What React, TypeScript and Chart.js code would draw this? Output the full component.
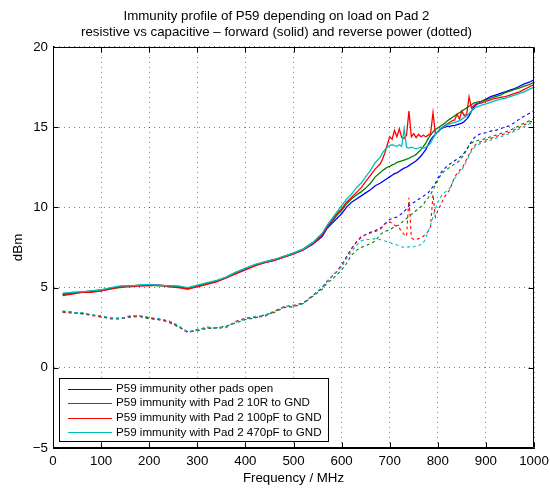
import { useEffect, useRef } from "react";
import { Chart, registerables } from "chart.js";
Chart.register(...registerables);

const titleLines = [
  "Immunity profile of P59 depending on load on Pad 2",
  "resistive vs capacitive \u2013 forward (solid) and reverse power (dotted)",
];
const xTitle = "Frequency / MHz";
const yTitle = "dBm";
const seriesLabels = [
  "P59 immunity other pads open",
  "P59 immunity with Pad 2 10R to GND",
  "P59 immunity with Pad 2 100pF to GND",
  "P59 immunity with Pad 2 470pF to GND",
];
const seriesColors = ["rgb(0,0,255)", "rgb(0,128,0)", "rgb(255,0,0)", "rgb(0,191,191)"];

const freq = [
  20, 40, 60, 80, 100, 120, 140, 160, 180, 200, 220, 240, 260, 280, 300, 320, 340, 360, 380, 400, 420, 440, 460, 480, 500, 520, 540, 560,
  570, 580, 590, 600, 610, 620, 630, 640, 650, 660, 670,
  680, 685, 690, 695, 700, 705, 710, 715, 720, 725, 730, 735, 740, 745, 750, 755, 760, 765, 770, 775,
  780, 785, 790, 795, 800, 805, 810, 815, 820, 825, 830, 835, 840, 845, 850, 855, 860, 865, 870, 875, 880,
  890, 900, 910, 920, 930, 940, 950, 960, 970, 980, 990, 1000,
];

const fwdOpen = [
  4.6, 4.65, 4.7, 4.75, 4.8, 4.95, 5.05, 5.1, 5.1, 5.15, 5.15, 5.1, 5.05, 4.95, 5.1, 5.25, 5.4, 5.6, 5.9, 6.15, 6.4, 6.55, 6.7, 6.9, 7.1, 7.35, 7.7, 8.2,
  8.7, 9.0, 9.3, 9.6, 10.0, 10.3, 10.5, 10.7, 10.9, 11.1, 11.35,
  11.5, 11.6, 11.7, 11.8, 11.9, 12.0, 12.1, 12.15, 12.25, 12.35, 12.45, 12.5, 12.6, 12.7, 12.8, 12.9, 13.05, 13.2, 13.4, 13.6,
  13.9, 14.2, 14.4, 14.55, 14.7, 14.85, 14.95, 15.0, 15.05, 15.05, 15.1, 15.1, 15.15, 15.2, 15.25, 15.35, 15.5, 15.7, 16.0, 16.25, 16.4,
  16.6, 16.75, 16.9, 17.0, 17.1, 17.2, 17.3, 17.4, 17.55, 17.7, 17.8, 17.95,
];
const fwd10R = [
  4.55, 4.7, 4.7, 4.8, 4.85, 4.95, 5.0, 5.1, 5.15, 5.15, 5.1, 5.1, 5.05, 4.9, 5.1, 5.25, 5.4, 5.65, 5.95, 6.2, 6.4, 6.6, 6.75, 6.95, 7.15, 7.4, 7.8, 8.35,
  8.8, 9.1, 9.5, 9.8, 10.2, 10.5, 10.75, 10.95, 11.2, 11.5, 11.9,
  12.15, 12.3, 12.4, 12.5, 12.55, 12.65, 12.7, 12.8, 12.85, 12.9, 12.95, 13.0, 13.05, 13.15, 13.2, 13.3, 13.45, 13.6, 13.8, 14.0,
  14.3, 14.5, 14.7, 14.85, 14.95, 15.05, 15.15, 15.25, 15.4, 15.5, 15.6, 15.7, 15.8, 15.9, 16.0, 16.1, 16.2, 16.3, 16.4, 16.5, 16.55,
  16.6, 16.7, 16.8, 16.9, 17.0, 17.15, 17.25, 17.35, 17.45, 17.55, 17.65, 17.8,
];
const fwd100pF = [
  4.5, 4.6, 4.7, 4.7, 4.8, 4.9, 5.05, 5.05, 5.1, 5.1, 5.15, 5.05, 5.0, 4.9, 5.05, 5.2, 5.35, 5.6, 5.85, 6.1, 6.35, 6.55, 6.7, 6.9, 7.1, 7.35, 7.75, 8.3,
  8.8, 9.2, 9.6, 9.9, 10.3, 10.6, 10.9, 11.2, 11.6, 12.0, 12.4,
  12.7, 13.0, 13.4, 13.9, 14.4, 14.25, 14.8, 14.4, 14.9, 14.35, 14.3, 14.5, 16.0, 14.4, 14.6, 14.35, 14.55, 14.4, 14.5, 14.4,
  14.5, 14.6, 15.9, 14.6, 14.7, 14.9, 15.0, 15.1, 15.2, 15.3, 15.4, 15.45, 15.8, 15.5, 16.0, 15.7, 15.8, 16.9, 16.2, 16.35, 16.45,
  16.5, 16.6, 16.7, 16.8, 16.85, 16.9, 17.0, 17.1, 17.2, 17.35, 17.5, 17.65,
];
const fwd470pF = [
  4.65, 4.7, 4.75, 4.8, 4.85, 5.0, 5.1, 5.1, 5.15, 5.2, 5.15, 5.1, 5.1, 5.0, 5.15, 5.3, 5.45, 5.65, 5.95, 6.2, 6.45, 6.6, 6.75, 6.95, 7.15, 7.4, 7.8, 8.4,
  8.9, 9.3, 9.7, 10.1, 10.5, 10.8, 11.2, 11.5, 11.9, 12.3, 12.8,
  13.1, 13.4, 13.6, 13.75, 13.85, 13.9, 13.85, 13.8, 13.9, 13.8, 14.9, 13.75, 13.7, 13.75, 13.7, 13.65, 13.7, 13.75, 13.7, 13.75,
  13.85, 14.0, 14.3, 14.55, 14.75, 14.9, 15.0, 15.05, 15.15, 15.2, 15.25, 15.3, 15.35, 15.4, 15.5, 15.6, 15.7, 15.85, 16.0, 16.15, 16.25,
  16.35, 16.45, 16.55, 16.65, 16.75, 16.8, 16.9, 17.0, 17.1, 17.2, 17.35, 17.5,
];

const revOpen = [
  3.5, 3.45, 3.4, 3.3, 3.2, 3.1, 3.05, 3.2, 3.25, 3.1, 3.05, 2.9, 2.6, 2.2, 2.35, 2.5, 2.45, 2.55, 2.85, 3.05, 3.15, 3.25, 3.5, 3.8, 3.85, 4.0, 4.5, 5.0,
  5.4, 5.7, 6.0, 6.4, 6.9, 7.4, 7.8, 8.15, 8.3, 8.45, 8.55,
  8.7, 8.8, 8.95, 9.1, 9.25, 9.3, 9.35, 9.4, 9.5, 9.6, 9.75, 9.9, 10.1, 10.2, 10.3, 10.4, 10.5, 10.6, 10.7, 10.8,
  10.9, 11.1, 11.3, 11.5, 11.8, 12.1, 12.3, 12.45, 12.6, 12.7, 12.8, 12.9, 13.0, 13.1, 13.25, 13.4, 13.6, 13.85, 14.1, 14.3, 14.45,
  14.6, 14.65, 14.75, 14.8, 14.9, 15.0, 15.1, 15.3, 15.5, 15.7, 15.85, 16.0,
];
const rev10R = [
  3.45, 3.5, 3.35, 3.3, 3.15, 3.1, 3.1, 3.15, 3.2, 3.05, 3.0, 2.85, 2.55, 2.25, 2.3, 2.45, 2.5, 2.6, 2.8, 3.0, 3.1, 3.3, 3.45, 3.75, 3.8, 4.0, 4.45, 4.9,
  5.3, 5.5, 5.8, 6.1, 6.5, 7.0, 7.3, 7.5, 7.6, 7.75, 7.9,
  8.3, 8.4, 8.5, 8.55, 8.6, 8.7, 8.8, 8.85, 8.9, 9.05, 9.2, 9.3, 9.45, 9.55, 9.7, 9.8, 9.9, 10.05, 10.2, 10.4,
  10.6, 10.8, 11.1, 11.4, 11.7, 11.95, 12.15, 12.3, 12.4, 12.5, 12.6, 12.7, 12.8, 12.9, 13.1, 13.3, 13.6, 13.85, 14.0, 14.1, 14.15,
  14.2, 14.3, 14.4, 14.5, 14.6, 14.7, 14.8, 14.95, 15.1, 15.25, 15.4, 15.5,
];
const rev100pF = [
  3.5, 3.4, 3.4, 3.25, 3.2, 3.05, 3.05, 3.2, 3.2, 3.1, 3.0, 2.9, 2.6, 2.2, 2.4, 2.5, 2.5, 2.5, 2.9, 3.1, 3.15, 3.2, 3.5, 3.8, 3.9, 4.05, 4.5, 5.0,
  5.4, 5.7, 6.0, 6.4, 6.9, 7.4, 7.8, 8.1, 8.3, 8.4, 8.5,
  8.6, 8.8, 9.0, 9.05, 9.1, 9.0, 8.9, 8.8, 8.7, 8.5, 8.3, 8.2, 10.6, 8.1, 8.0, 8.0, 8.05, 8.1, 8.2, 8.35,
  8.5, 8.8, 10.8, 9.4, 9.8, 10.1, 10.4, 10.7, 10.9, 11.1, 11.5, 11.9, 12.1, 12.3, 12.4, 12.7, 13.0, 13.3, 13.6, 13.8, 13.95,
  14.1, 14.2, 14.3, 14.4, 14.5, 14.6, 14.7, 14.85, 15.0, 15.15, 15.3, 15.4,
];
const rev470pF = [
  3.55, 3.45, 3.45, 3.3, 3.25, 3.1, 3.05, 3.25, 3.25, 3.15, 3.05, 2.95, 2.65, 2.25, 2.35, 2.55, 2.45, 2.55, 2.85, 3.05, 3.2, 3.25, 3.55, 3.8, 3.85, 4.0, 4.5, 5.05,
  5.4, 5.7, 6.0, 6.3, 6.8, 7.2, 7.6, 7.9, 8.0, 8.0, 8.05,
  8.0, 7.95, 7.9, 7.85, 7.8, 7.75, 7.7, 7.65, 7.6, 7.55, 7.5, 7.5, 7.55, 7.5, 7.55, 7.6, 7.6, 7.7, 7.8, 8.1,
  8.5, 8.9, 9.4, 9.9, 10.3, 10.6, 10.8, 10.95, 11.05, 11.2, 11.5, 11.8, 12.0, 12.2, 12.35, 12.6, 12.9, 13.2, 13.5, 13.7, 13.85,
  14.0, 14.1, 14.2, 14.3, 14.4, 14.5, 14.6, 14.75, 14.9, 15.05, 15.2, 15.3,
];

const forwardSeries = [fwdOpen, fwd10R, fwd100pF, fwd470pF];
const reverseSeries = [revOpen, rev10R, rev100pF, rev470pF];

const FONT = "'Liberation Sans', Arial, Helvetica, sans-serif";

const framePlugin = {
  id: "frame",
  afterDatasetsDraw(chart: any) {
    const { ctx, chartArea: a, scales } = chart;
    ctx.save();
    ctx.setLineDash([]);
    ctx.strokeStyle = "#000";
    ctx.lineWidth = 1;
    const L = Math.round(a.left) + 0.5;
    const R = Math.round(a.right) - 0.5;
    const T = Math.round(a.top) + 0.5;
    const B = Math.round(a.bottom) - 0.5;
    ctx.beginPath();
    ctx.rect(L, T, R - L, B - T);
    ctx.stroke();
    const tl = 5;
    ctx.beginPath();
    for (const t of scales.x.ticks) {
      const x = Math.round(scales.x.getPixelForValue(t.value)) + 0.5;
      ctx.moveTo(x, B);
      ctx.lineTo(x, B - tl);
      ctx.moveTo(x, T);
      ctx.lineTo(x, T + tl);
    }
    for (const t of scales.y.ticks) {
      const y = Math.round(scales.y.getPixelForValue(t.value)) + 0.5;
      ctx.moveTo(L, y);
      ctx.lineTo(L + tl, y);
      ctx.moveTo(R, y);
      ctx.lineTo(R - tl, y);
    }
    ctx.stroke();
    ctx.restore();
  },
};

const legendPlugin = {
  id: "boxLegend",
  afterDraw(chart: any) {
    const { ctx } = chart;
    const x0 = 59.5;
    const y0 = 378.5;
    const w = 269;
    const h = 63;
    ctx.save();
    ctx.setLineDash([]);
    ctx.fillStyle = "#fff";
    ctx.fillRect(x0, y0, w, h);
    ctx.strokeStyle = "#000";
    ctx.lineWidth = 1;
    ctx.strokeRect(x0, y0, w, h);
    ctx.font = `11.6px ${FONT}`;
    ctx.textBaseline = "middle";
    ctx.textAlign = "left";
    seriesLabels.forEach((label, i) => {
      const y = 388.5 + i * 14.6;
      ctx.strokeStyle = seriesColors[i];
      ctx.lineWidth = 1;
      ctx.beginPath();
      ctx.moveTo(68, Math.round(y) + 0.5);
      ctx.lineTo(112, Math.round(y) + 0.5);
      ctx.stroke();
      ctx.fillStyle = "#000";
      ctx.fillText(label, 116, y);
    });
    ctx.restore();
  },
};

const tickFmt = (v: any) => (Number(v) < 0 ? "\u2212" + Math.abs(Number(v)) : String(v));

export default function App() {
  const ref = useRef<HTMLCanvasElement>(null);
  useEffect(() => {
    if (!ref.current) return;
    const datasets: any[] = [];
    seriesLabels.forEach((label, i) => {
      datasets.push({
        label,
        data: forwardSeries[i].map((v, k) => ({ x: freq[k], y: v })),
        borderColor: seriesColors[i],
        borderWidth: 1.3,
        pointRadius: 0,
        tension: 0,
        order: 4 - i,
      });
      datasets.push({
        label: label + " (reverse)",
        data: reverseSeries[i].map((v, k) => ({ x: freq[k], y: v })),
        borderColor: seriesColors[i],
        borderWidth: 1.1,
        borderDash: [3, 3],
        pointRadius: 0,
        tension: 0,
        order: 4 - i,
      });
    });
    const chart = new Chart(ref.current, {
      type: "line",
      data: { datasets },
      options: {
        responsive: false,
        animation: false,
        devicePixelRatio: 1,
        layout: { padding: { left: 19, right: 16, top: 0, bottom: 0 } },
        plugins: {
          legend: { display: false },
          tooltip: { enabled: false },
          title: {
            display: true,
            text: titleLines,
            color: "#000",
            font: { family: FONT, size: 13.3, weight: "normal", lineHeight: 1.2 },
            padding: { top: 8, bottom: 7 },
          },
        },
        scales: {
          x: {
            type: "linear",
            min: 0,
            max: 1000,
            ticks: { stepSize: 100, color: "#000", font: { family: FONT, size: 13.3 }, padding: 5, maxRotation: 0, callback: tickFmt },
            grid: { color: "rgba(0,0,0,0.5)", drawTicks: false },
            border: { display: true, color: "#000", dash: [1, 4] },
            title: { display: true, text: xTitle, color: "#000", font: { family: FONT, size: 13.3 }, padding: { top: 0, bottom: 2 } },
            afterFit: (s: any) => {
              s.height = 40;
              s.paddingLeft = 0;
              s.paddingRight = 0;
            },
          },
          y: {
            type: "linear",
            min: -5,
            max: 20,
            ticks: { stepSize: 5, color: "#000", font: { family: FONT, size: 13.3 }, padding: 5, callback: tickFmt },
            grid: { color: "rgba(0,0,0,0.5)", drawTicks: false },
            border: { display: true, color: "#000", dash: [1, 4] },
            title: { display: true, text: yTitle, color: "#000", font: { family: FONT, size: 13.3 }, padding: { top: -9, bottom: 0 } },
            afterFit: (s: any) => {
              s.width = 34;
              s.paddingTop = 0;
              s.paddingBottom = 0;
            },
          },
        },
      },
      plugins: [framePlugin, legendPlugin],
    });
    return () => chart.destroy();
  }, []);
  return (
    <div style={{ position: "absolute", left: 0, top: 0, width: 550, height: 488, background: "#fff" }}>
      <canvas ref={ref} width={550} height={488} style={{ display: "block" }} />
    </div>
  );
}
